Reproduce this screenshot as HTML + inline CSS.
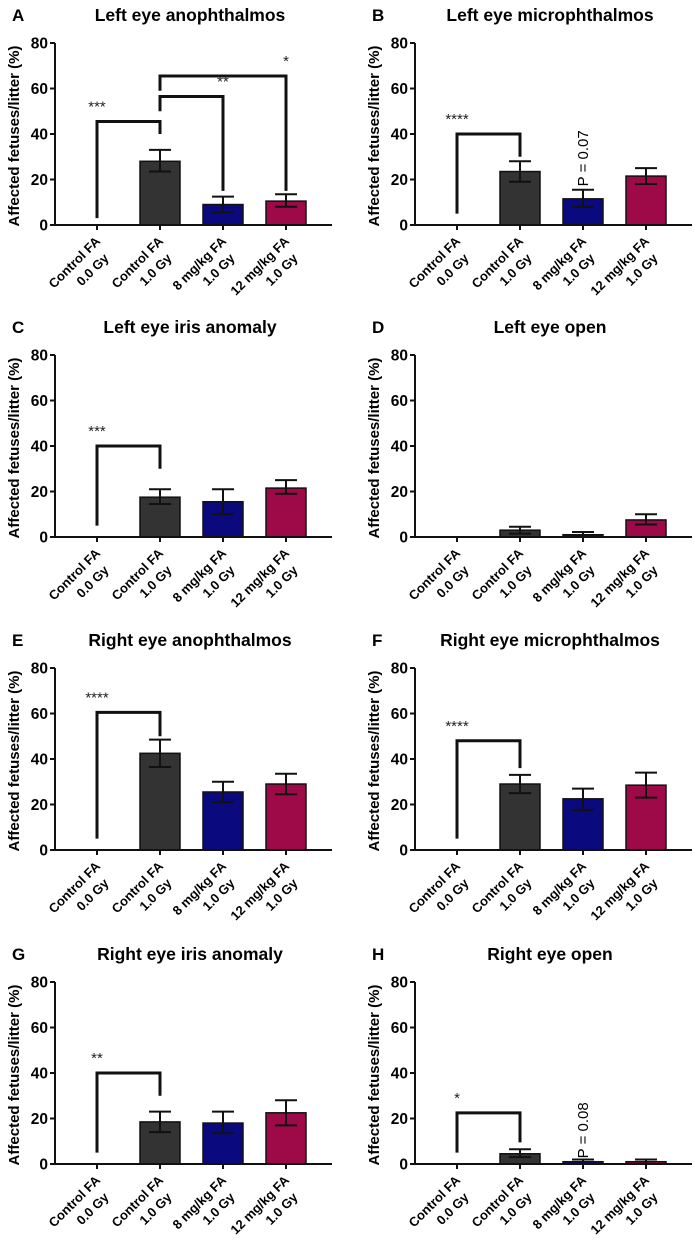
<!DOCTYPE html>
<html><head><meta charset="utf-8"><style>
html,body{margin:0;padding:0;background:#fff;}
svg{display:block;font-family:"Liberation Sans",sans-serif;}
</style></head><body>
<svg id="fig" width="695" height="1240" viewBox="0 0 695 1240" xmlns="http://www.w3.org/2000/svg"></svg>
<script>
const categories = [["Control FA","0.0 Gy"],["Control FA","1.0 Gy"],["8 mg/kg FA","1.0 Gy"],["12 mg/kg FA","1.0 Gy"]];
const yTicks = [0,20,40,60,80];
const colors = ["#333333","#333333","#0a0a7e","#9e0a48"];
const panelLetters = ["A","B","C","D","E","F","G","H"];
const panelTitles = ["Left eye anophthalmos","Left eye microphthalmos","Left eye iris anomaly","Left eye open","Right eye anophthalmos","Right eye microphthalmos","Right eye iris anomaly","Right eye open"];
const means = [[0,28,9,10.5],[0,23.5,11.5,21.5],[0,17.5,15.5,21.5],[0,3,1,7.5],[0,42.5,25.5,29],[0,29,22.5,28.5],[0,18.5,18,22.5],[0,4.5,1,1]];
const errLo = [[0,23.5,5.5,8],[0,19,8,18],[0,14.5,10,19],[0,1.5,0.5,5.5],[0,36.5,21,24.5],[0,25,17.5,23],[0,14,13.5,17],[0,3,0,0]];
const errHi = [[0,33,12.5,13.5],[0,28,15.5,25],[0,21,21,25],[0,4.5,2.2,10],[0,48.5,30,33.5],[0,33,27,34],[0,23,23,28],[0,6.5,2,2]];
// brackets: [panel, fromIdx, toIdx, leftLegBottom, top, rightLegBottom, label]
const brackets = [[0,0,1,3,45.5,40,"***"],[0,1,2,50,56.5,15,"**"],[0,1,3,59,65.5,15,"*"],[1,0,1,5,40,30,"****"],[2,0,1,5,40,30,"***"],[4,0,1,5,60.5,50,"****"],[5,0,1,5,48,36,"****"],[6,0,1,5,40,30,"**"],[7,0,1,5,22.5,9.5,"*"]];
const pNotes = [[1,2,"P = 0.07",17],[7,2,"P = 0.08",2.5]];

const NS="http://www.w3.org/2000/svg";
const svg=document.getElementById('fig');
function mk(tag,attrs,parent){const e=document.createElementNS(NS,tag);for(const k in attrs)e.setAttribute(k,attrs[k]);(parent||svg).appendChild(e);return e;}
const rowTop=[43,355,668,982];
const colAxis=[55,415];
const tickOff=[42,105,168,231];
const PXU=182/80;
for(let p=0;p<8;p++){
  const r=Math.floor(p/2), c=p%2;
  const ax=colAxis[c], top=rowTop[r], y0=top+182;
  const yS=v=>y0-v*PXU;
  const xS=i=>ax+tickOff[i];
  const g=mk('g',{});
  
  
  let t=mk('text',{x:ax-43,y:top-22,'font-size':17,'font-weight':'bold'},g);t.textContent=panelLetters[p];
  
  t=mk('text',{x:ax+135,y:top-22,'font-size':17.5,'font-weight':'bold','text-anchor':'middle'},g);t.textContent=panelTitles[p];
  
  t=mk('text',{x:0,y:0,'font-size':15,'font-weight':'bold','text-anchor':'middle',transform:`translate(${ax-36},${top+93}) rotate(-90)`},g);t.textContent='Affected fetuses/litter (%)';
  
  for(let i=0;i<4;i++){
    if(means[p][i]>0){
      const b=mk('rect',{x:xS(i)-20,y:yS(means[p][i]),width:40,height:y0-yS(means[p][i]),fill:colors[i],stroke:'#111','stroke-width':1.5},g);
      
      const e=mk('path',{d:`M${xS(i)},${yS(errLo[p][i])}V${yS(errHi[p][i])}M${xS(i)-11},${yS(errHi[p][i])}H${xS(i)+11}M${xS(i)-11},${yS(errLo[p][i])}H${xS(i)+11}`,stroke:'#111','stroke-width':2,fill:'none'},g);
      
    }
  }
  const a=mk('path',{d:`M${ax},${top}V${y0}H${ax+277}`,stroke:'#111','stroke-width':2,fill:'none'},g);
  
  yTicks.forEach(v=>{
    mk('line',{x1:ax-5,x2:ax,y1:yS(v),y2:yS(v),stroke:'#111','stroke-width':2},g);
    const tl=mk('text',{x:ax-7,y:yS(v)+5.5,'font-size':15.5,'font-weight':'bold','text-anchor':'end'},g);tl.textContent=v;
    
  });
  for(let i=0;i<4;i++){
    mk('line',{x1:xS(i),x2:xS(i),y1:y0,y2:y0+5,stroke:'#111','stroke-width':2},g);
    const tl=mk('text',{x:0,y:0,'font-size':13,'font-weight':'bold','text-anchor':'end',transform:`translate(${xS(i)+4},${y0+17}) rotate(-45)`},g);
    
    const s1=mk('tspan',{x:0,dy:0},tl);s1.textContent=categories[i][0];
    const s2=mk('tspan',{x:-6,dy:18},tl);s2.textContent=categories[i][1];
  }
  brackets.filter(b=>b[0]===p).forEach(b=>{
    const x1=xS(b[1]),x2=xS(b[2]);
    const br=mk('path',{d:`M${x1},${yS(b[3])}V${yS(b[4])}H${x2}V${yS(b[5])}`,stroke:'#111','stroke-width':3,fill:'none'},g);
    
    const st=mk('text',{x:b[1]===0?x1:x2,y:yS(b[4])-10,'font-size':15,'text-anchor':'middle',fill:'#222'},g);st.textContent=b[6];
    
  });
  pNotes.filter(n=>n[0]===p).forEach(n=>{
    const pt=mk('text',{x:0,y:0,'font-size':15,'text-anchor':'start',transform:`translate(${xS(n[1])+5},${yS(n[3])}) rotate(-90)`},g);pt.textContent=n[2];
    
  });
}
</script>
</body></html>
